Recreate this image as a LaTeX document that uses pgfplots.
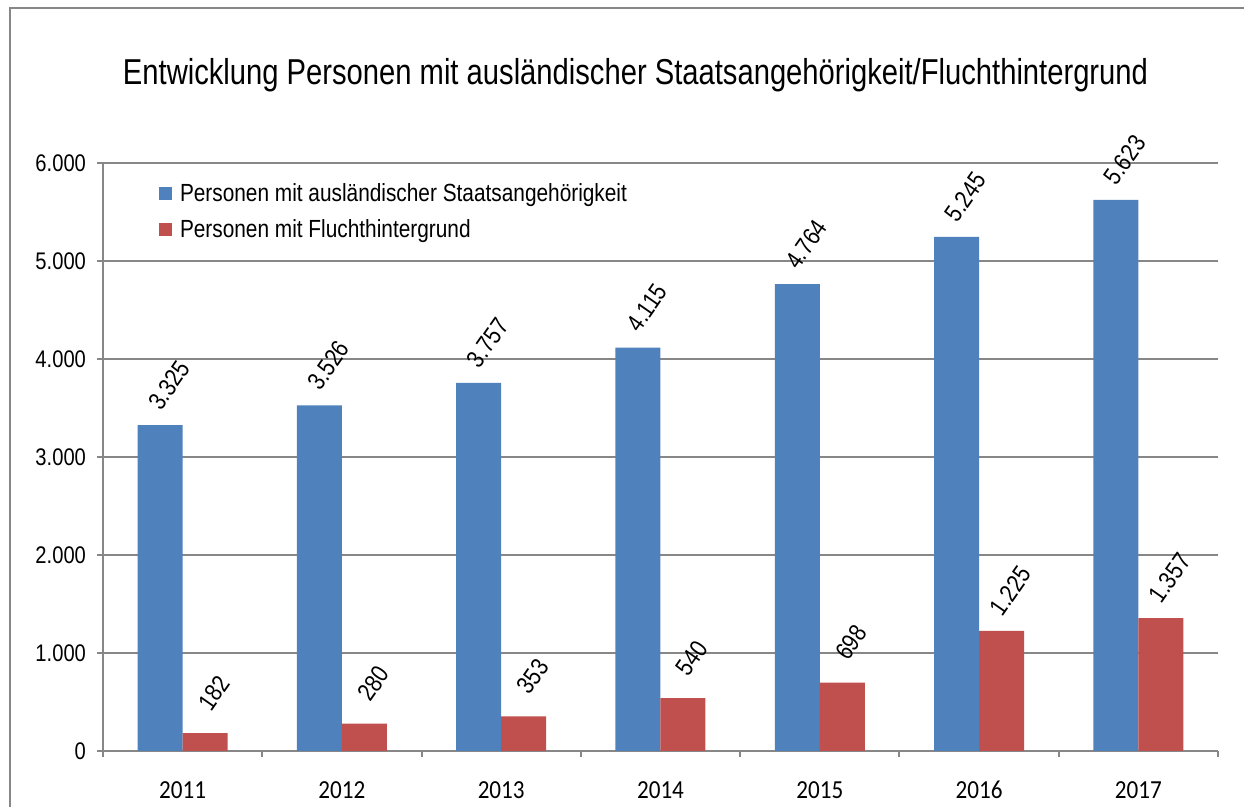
\documentclass[border=0pt]{standalone}
\usepackage{pgfplots}
\pgfplotsset{compat=1.18}
\usepackage{fontspec}
\setmainfont{Liberation Sans}[FakeStretch=0.84]
\newfontfamily\xfont{Carlito}[FakeStretch=0.89]
\definecolor{cblue}{HTML}{4F81BD}
\definecolor{cred}{HTML}{C0504D}
\definecolor{lgray}{HTML}{878787}
\begin{document}
\begin{tikzpicture}
\useasboundingbox (0,0) rectangle (622pt,403.5pt);
\draw[lgray, line width=1pt] (5pt,0) -- (5pt,399.5pt) -- (622pt,399.5pt);
\node[anchor=base, inner sep=0pt] at (317.75pt,361pt) {\resizebox{512.5pt}{\height}{\fontsize{18}{21}\selectfont Entwicklung Personen mit ausländischer Staatsangehörigkeit/Fluchthintergrund}};
\begin{axis}[
  at={(51.5pt,28pt)}, anchor=south west,
  width=557.5pt, height=294pt, scale only axis,
  ybar, bar width=22.5pt,
  ymin=0, ymax=6000, ytick={0,1000,...,6000},
  xmin=-0.5, xmax=6.5,
  xtick={-0.5,0.5,1.5,2.5,3.5,4.5,5.5,6.5},
  x tick label as interval,
  xticklabels={2011,2012,2013,2014,2015,2016,2017},
  axis x line*=bottom, axis y line*=left,
  axis line style={lgray, line width=1pt},
  tick align=outside, major tick length=3pt,
  every tick/.style={lgray, line width=1pt},
  ymajorgrids, grid style={lgray, line width=1pt},
  yticklabel style={font=\fontsize{12}{14}\selectfont, xshift=-2pt},
  xticklabel style={font=\xfont\fontsize{13}{15}\selectfont, text height=9pt, text depth=2pt, yshift=-8pt},
  /pgf/number format/1000 sep={.},
  /pgf/number format/assume math mode=true,
  nodes near coords,
  every node near coord/.append style={font=\fontsize{12.5}{14}\selectfont, black, xshift=4.5pt, yshift=20pt, rotate=55, anchor=center},
  clip=false,
  legend style={at={(0,1)}, anchor=north west, xshift=28pt, yshift=-10.5pt,
    draw=none, fill=none, inner sep=0pt, outer sep=0pt, row sep=6pt, column sep=4pt,
    font=\fontsize{12.4}{14}\selectfont,
    nodes={inner sep=0pt, text height=9pt, text depth=3pt}},
  legend cell align=left,
  legend image code/.code={\fill[#1] (0pt,-2pt) rectangle (6.5pt,4.5pt);},
]
\addplot[ybar, fill=cblue, draw=none, bar shift=-11.25pt] coordinates {(0,3325) (1,3526) (2,3757) (3,4115) (4,4764) (5,5245) (6,5623)};
\addlegendentry{Personen mit ausländischer Staatsangehörigkeit}
\addplot[ybar, fill=cred, draw=none, bar shift=11.25pt] coordinates {(0,182) (1,280) (2,353) (3,540) (4,698) (5,1225) (6,1357)};
\addlegendentry{Personen mit Fluchthintergrund}
\end{axis}
\end{tikzpicture}
\end{document}
